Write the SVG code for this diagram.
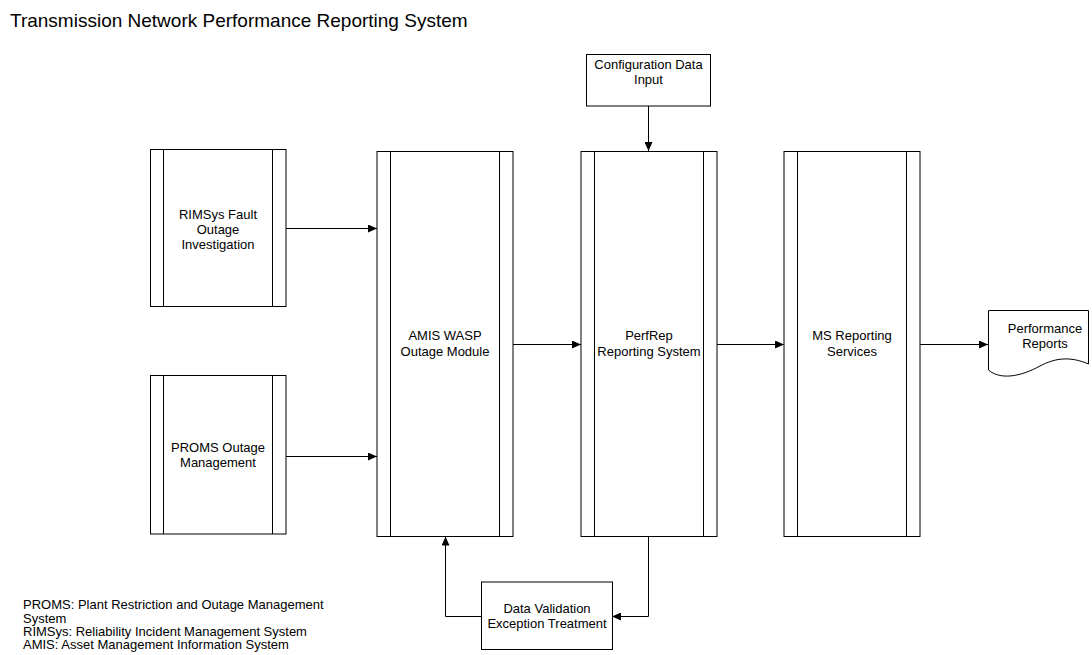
<svg xmlns="http://www.w3.org/2000/svg" width="1092" height="655" viewBox="0 0 1092 655">
<style>
.b{fill:#fff;stroke:#000;stroke-width:1}
.l{stroke:#000;stroke-width:1;fill:none}
.t{font-family:"Liberation Sans",Arial,sans-serif;font-size:13px;fill:#000;text-anchor:middle}
.lg{font-family:"Liberation Sans",Arial,sans-serif;font-size:13px;fill:#000}
</style>
<defs>
<marker id="a" markerWidth="10" markerHeight="8" refX="9" refY="4" orient="auto" markerUnits="userSpaceOnUse">
<path d="M0,0 L9,4 L0,8 Z" fill="#000"/>
</marker>
</defs>
<rect width="1092" height="655" fill="#fff"/>
<text x="10" y="27" font-family="Liberation Sans, Arial, sans-serif" font-size="19" fill="#000">Transmission Network Performance Reporting System</text>

<g id="connectors">
<line class="l" x1="286" y1="228.5" x2="377" y2="228.5" marker-end="url(#a)"/>
<line class="l" x1="286" y1="456.5" x2="377" y2="456.5" marker-end="url(#a)"/>
<line class="l" x1="513" y1="344.5" x2="581" y2="344.5" marker-end="url(#a)"/>
<line class="l" x1="717" y1="344.5" x2="784" y2="344.5" marker-end="url(#a)"/>
<line class="l" x1="920" y1="344.5" x2="988" y2="344.5" marker-end="url(#a)"/>
<line class="l" x1="648.5" y1="106" x2="648.5" y2="151" marker-end="url(#a)"/>
<polyline class="l" points="648.5,536 648.5,616.5 612,616.5" marker-end="url(#a)"/>
<polyline class="l" points="481,616.5 445.5,616.5 445.5,536.5" marker-end="url(#a)"/>
</g>

<g id="rimsys">
<rect class="b" x="150.5" y="149.5" width="135.5" height="157"/>
<line class="l" x1="163.5" y1="149.5" x2="163.5" y2="306.5"/>
<line class="l" x1="272.5" y1="149.5" x2="272.5" y2="306.5"/>
<text class="t" x="218" y="219">RIMSys Fault</text>
<text class="t" x="218" y="234">Outage</text>
<text class="t" x="218" y="249">Investigation</text>
</g>

<g id="proms">
<rect class="b" x="150.5" y="375.5" width="135.5" height="158.5"/>
<line class="l" x1="163.5" y1="375.5" x2="163.5" y2="534"/>
<line class="l" x1="272.5" y1="375.5" x2="272.5" y2="534"/>
<text class="t" x="218" y="452">PROMS Outage</text>
<text class="t" x="218" y="467">Management</text>
</g>

<g id="amis">
<rect class="b" x="377" y="151.5" width="136" height="385"/>
<line class="l" x1="390.5" y1="151.5" x2="390.5" y2="536.5"/>
<line class="l" x1="499.5" y1="151.5" x2="499.5" y2="536.5"/>
<text class="t" x="445" y="340">AMIS WASP</text>
<text class="t" x="445" y="356">Outage Module</text>
</g>

<g id="perfrep">
<rect class="b" x="581" y="151.5" width="136" height="385"/>
<line class="l" x1="594.5" y1="151.5" x2="594.5" y2="536.5"/>
<line class="l" x1="703.5" y1="151.5" x2="703.5" y2="536.5"/>
<text class="t" x="649" y="340">PerfRep</text>
<text class="t" x="649" y="356">Reporting System</text>
</g>

<g id="msreporting">
<rect class="b" x="784" y="151.5" width="136" height="385"/>
<line class="l" x1="797.5" y1="151.5" x2="797.5" y2="536.5"/>
<line class="l" x1="906.5" y1="151.5" x2="906.5" y2="536.5"/>
<text class="t" x="852" y="340">MS Reporting</text>
<text class="t" x="852" y="356">Services</text>
</g>

<g id="config">
<rect class="b" x="586.5" y="54.5" width="124" height="51.5"/>
<text class="t" x="648.5" y="69">Configuration Data</text>
<text class="t" x="648.5" y="84">Input</text>
</g>

<g id="reports">
<path class="b" d="M988.5,310.5 H1088.5 V364 C1070,356 1055,358 1040,366 C1020,377 1000,380 988.5,370 Z"/>
<text class="t" x="1045" y="333">Performance</text>
<text class="t" x="1045" y="348">Reports</text>
</g>

<g id="validation">
<rect class="b" x="481.5" y="582" width="131" height="67.5"/>
<text class="t" x="547" y="613">Data Validation</text>
<text class="t" x="547" y="628">Exception Treatment</text>
</g>

<g id="legend">
<text class="lg" x="23" y="609">PROMS: Plant Restriction and Outage Management</text>
<text class="lg" x="23" y="623">System</text>
<text class="lg" x="23" y="636">RIMSys: Reliability Incident Management System</text>
<text class="lg" x="23" y="649">AMIS: Asset Management Information System</text>
</g>
</svg>
